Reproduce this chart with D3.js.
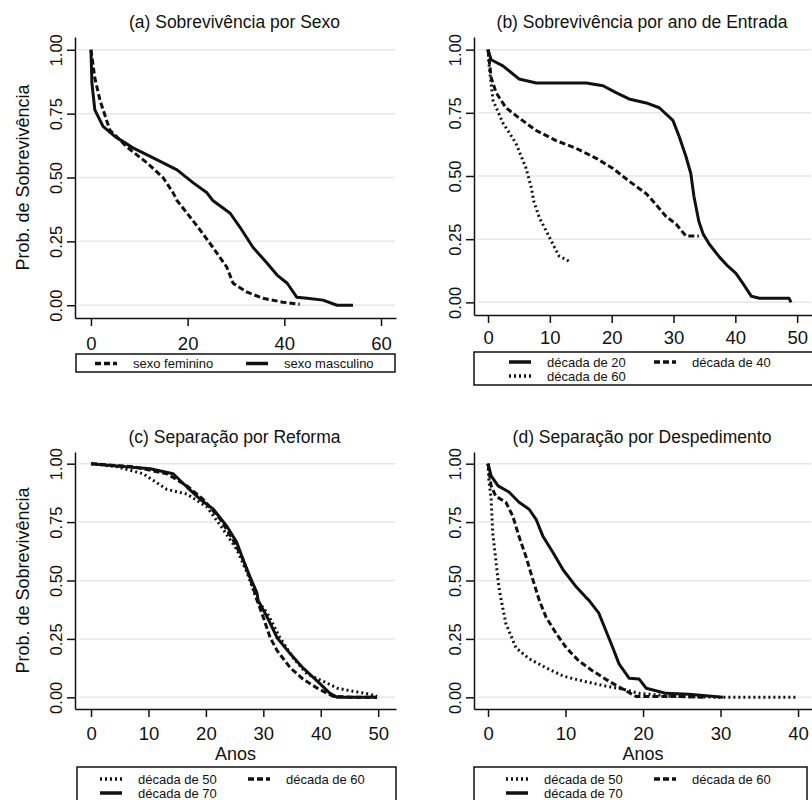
<!DOCTYPE html>
<html>
<head>
<meta charset="utf-8">
<script src="https://cdn.jsdelivr.net/npm/d3@7"></script>
<style>
body { margin: 0; background: #fff; }
svg { display: block; font-family: "Liberation Sans", Arial, sans-serif; }
</style>
</head>
<body>
<svg width="812" height="800"></svg>
<script>
// survival estimates: [anos, prob. de sobrevivência]
let sexoFeminino = [[0,1],[0.8,0.89],[1.9,0.80],[3.9,0.686],[7.4,0.62],[11.6,0.557],[14.9,0.50],[17,0.44],[17.8,0.41],
    [19.9,0.36],[22.6,0.294],[25.2,0.227],[28.1,0.149],[29.4,0.086],[32.3,0.051],[35.6,0.027],[39.7,0.012],[43.2,0.004]];
let sexoMasculino = [[0,1],[0.2,0.87],[0.8,0.765],[2.5,0.70],[5,0.66],[8.7,0.616],[13.7,0.569],[17.8,0.53],[21.1,0.48],
    [24,0.44],[25.2,0.41],[28.8,0.36],[30.8,0.306],[33.5,0.227],[36.4,0.165],[38.5,0.118],[40.6,0.086],[42.6,0.031],
    [44.7,0.027],[48,0.02],[50.9,0.0],[54.2,0.0]];

let entrada20 = [[0,1],[0.5,0.96],[2.4,0.936],[5,0.884],[7.8,0.868],[11,0.868],[15.9,0.868],[18.6,0.857],[20.7,0.83],
    [22.8,0.805],[25.6,0.789],[27.7,0.77],[29.9,0.72],[30.9,0.657],[32,0.578],[32.8,0.51],[33.3,0.42],[34.1,0.32],
    [34.8,0.27],[35.8,0.23],[37.4,0.18],[38.8,0.143],[40.1,0.115],[41.3,0.072],[42.6,0.024],[43.9,0.016],[46.1,0.016],
    [48.7,0.016],[49,0.0]];
let entrada40 = [[0,1],[0.5,0.89],[1.3,0.83],[2.9,0.77],[5,0.73],[7.8,0.68],[11,0.64],[14.2,0.61],[17.5,0.57],[20.2,0.53],
    [22.8,0.48],[25.6,0.43],[26.7,0.40],[28.8,0.34],[30.4,0.31],[32,0.263],[34.1,0.263]];
let entrada60 = [[0,1],[0.2,0.93],[0.8,0.80],[2.4,0.71],[4.5,0.63],[6.1,0.534],[7,0.454],[7.4,0.40],[8.3,0.335],[9.4,0.283],
    [10.5,0.23],[11.5,0.183],[13.1,0.163]];

let reforma50 = [[0,1],[4.5,0.987],[9.1,0.957],[13.2,0.89],[16.7,0.87],[20.2,0.814],[23,0.719],[25.4,0.632],[27.2,0.532],
    [28.9,0.416],[30.7,0.36],[32.9,0.255],[35.2,0.169],[37.6,0.1],[40.4,0.069],[42.9,0.039],[45.6,0.026],[48.6,0.013],[49.8,0.004]];
let reforma60 = [[0,1],[7.3,0.987],[13.2,0.957],[16.7,0.905],[19.5,0.848],[22.5,0.762],[24.7,0.675],[26.5,0.589],[28.2,0.472],
    [28.9,0.416],[30,0.342],[31.2,0.255],[32.4,0.2],[34.7,0.126],[36.9,0.078],[39.4,0.039],[42.2,0.004],[45.6,0],[49.8,0]];
let reforma70 = [[0,1],[4.5,0.99],[10.3,0.978],[14.3,0.957],[16.7,0.90],[19,0.848],[21.3,0.805],[23.7,0.73],[25.4,0.662],
    [26.5,0.588],[27.7,0.515],[28.9,0.446],[29.1,0.415],[30.7,0.342],[32.4,0.255],[34.7,0.186],[36.9,0.126],[39.4,0.069],
    [41.6,0.017],[42.9,0],[45.6,0],[49.8,0]];

let despedimento50 = [[0,1],[0.1,0.935],[0.4,0.848],[0.6,0.706],[1,0.589],[1.4,0.472],[1.7,0.416],[2.3,0.316],[3.6,0.212],
    [5.3,0.165],[7.5,0.126],[9.7,0.091],[12.3,0.069],[15.2,0.048],[17.4,0.035],[19.5,0.017],[23.9,0.004],[30.3,0],[39.7,0]];
let despedimento60 = [[0,1],[0.4,0.905],[1,0.861],[2.3,0.835],[3.2,0.775],[4,0.688],[4.9,0.602],[5.8,0.502],[6.6,0.416],
    [7.5,0.342],[8.8,0.273],[10.1,0.212],[11.7,0.156],[13.5,0.113],[15.6,0.069],[17.4,0.035],[19.1,0.004],[20.8,0.004],
    [23.9,0.004],[28.1,0]];
let despedimento70 = [[0,1],[0.4,0.948],[1.3,0.905],[2.7,0.879],[4,0.835],[5.3,0.805],[6.2,0.762],[7.1,0.688],[8.4,0.619],
    [9.7,0.545],[11.4,0.472],[12.6,0.429],[13,0.416],[14.3,0.36],[15.2,0.286],[16.1,0.212],[16.9,0.143],[18.2,0.082],
    [19.5,0.078],[20.4,0.039],[23,0.017],[25.9,0.013],[30.3,0]];

let yTicks = [0, 0.25, 0.5, 0.75, 1];
let xTicksA = [0, 20, 40, 60];
let xTicksB = [0, 10, 20, 30, 40, 50];
let xTicksC = [0, 10, 20, 30, 40, 50];
let xTicksD = [0, 10, 20, 30, 40];

let titles = ["(a) Sobrevivência por Sexo", "(b) Sobrevivência por ano de Entrada",
              "(c) Separação por Reforma", "(d) Separação por Despedimento"];
let yTitle = "Prob. de Sobrevivência";
let xTitle = "Anos";

let styles = {
    solid:  {dash: null},
    dashed: {dash: "6,3"},
    dotted: {dash: "2,3"}
};

let svg = d3.select("svg");

let panels = [
    {title: titles[0], xDom: [-3.3, 63.1], xRange: [75, 396], yRange: [318, 37], xTicks: xTicksA, yTitle: true, xTitle: false,
     tickY: 32, titleY: 28,
     series: [{d: sexoFeminino, s: "dashed"}, {d: sexoMasculino, s: "solid"}],
     legend: {x: 76, y: 354, w: 319, h: 18, items: [
         {s: "dashed", name: "sexo feminino", x: 95, y: 363.5}, {s: "solid", name: "sexo masculino", x: 246, y: 363.5}]}},
    {title: titles[1], xDom: [-2.27, 52.4], xRange: [474, 812], yRange: [315, 37], xTicks: xTicksB, yTitle: false, xTitle: false,
     tickY: 29, titleY: 28,
     series: [{d: entrada20, s: "solid"}, {d: entrada40, s: "dashed"}, {d: entrada60, s: "dotted"}],
     legend: {x: 474, y: 352, w: 345, h: 33, items: [
         {s: "solid", name: "década de 20", x: 509, y: 362}, {s: "dashed", name: "década de 40", x: 654, y: 362},
         {s: "dotted", name: "década de 60", x: 509, y: 376}]}},
    {title: titles[2], xDom: [-2.79, 53.1], xRange: [75, 396], yRange: [709, 452], xTicks: xTicksC, yTitle: true, xTitle: true,
     tickY: 31, titleY: 443,
     series: [{d: reforma50, s: "dotted"}, {d: reforma60, s: "dashed"}, {d: reforma70, s: "solid"}],
     legend: {x: 77, y: 767, w: 319, h: 40, items: [
         {s: "dotted", name: "década de 50", x: 100, y: 779}, {s: "dashed", name: "década de 60", x: 248, y: 779},
         {s: "solid", name: "década de 70", x: 100, y: 793}]}},
    {title: titles[3], xDom: [-1.81, 41.8], xRange: [474, 812], yRange: [709, 452], xTicks: xTicksD, yTitle: false, xTitle: true,
     tickY: 31, titleY: 443,
     series: [{d: despedimento50, s: "dotted"}, {d: despedimento60, s: "dashed"}, {d: despedimento70, s: "solid"}],
     legend: {x: 474, y: 767, w: 333, h: 40, items: [
         {s: "dotted", name: "década de 50", x: 506, y: 779}, {s: "dashed", name: "década de 60", x: 654, y: 779},
         {s: "solid", name: "década de 70", x: 506, y: 793}]}}
];

panels.forEach(function(p) {
    let x = d3.scaleLinear().domain(p.xDom).range(p.xRange),
        y = d3.scaleLinear().domain([-0.05, 1.05]).range(p.yRange),
        g = svg.append("g");

    // grid
    g.selectAll(".grid")
        .data(yTicks)
        .enter().append("line")
        .attr("x1", p.xRange[0] + 4).attr("x2", p.xRange[1] - 1)
        .attr("y1", function(d) { return y(d); }).attr("y2", function(d) { return y(d); })
        .attr("stroke", "#e6e6e6")
        .attr("stroke-width", 1.5);

    // title
    g.append("text")
        .attr("x", (p.xRange[0] + p.xRange[1]) / 2 - 1)
        .attr("y", p.titleY)
        .attr("text-anchor", "middle")
        .style("font-size", "17.5px")
        .attr("fill", "#111")
        .text(p.title);

    // y axis with rotated labels
    let ya = g.append("g")
        .attr("transform", "translate(" + p.xRange[0] + ",0)")
        .call(d3.axisLeft(y).tickValues(yTicks).tickFormat(d3.format(".2f")).tickSize(8).tickSizeOuter(0));
    ya.selectAll("text")
        .attr("transform", "rotate(-90)")
        .attr("x", 0).attr("y", -13).attr("dy", 0)
        .attr("text-anchor", "middle")
        .style("font-size", "16.5px").style("font-family", "Liberation Sans, Arial, sans-serif")
        .attr("fill", "#111");

    // x axis
    let xa = g.append("g")
        .attr("transform", "translate(0," + p.yRange[0] + ")")
        .call(d3.axisBottom(x).tickValues(p.xTicks).tickFormat(d3.format("d")).tickSize(8).tickSizeOuter(0));
    xa.selectAll("text")
        .attr("y", p.tickY).attr("dy", 0)
        .style("font-size", "18.5px").style("font-family", "Liberation Sans, Arial, sans-serif")
        .attr("fill", "#111");

    [ya, xa].forEach(function(a) {
        a.select(".domain").attr("stroke", "#111").attr("stroke-width", 1.5);
        a.selectAll(".tick line").attr("stroke", "#111").attr("stroke-width", 1.5);
    });

    if (p.yTitle) {
        g.append("text")
            .attr("transform", "translate(29," + (p.yRange[0] + p.yRange[1]) / 2 + ") rotate(-90)")
            .attr("text-anchor", "middle")
            .style("font-size", "18px")
            .attr("fill", "#111")
            .text(yTitle);
    }
    if (p.xTitle) {
        g.append("text")
            .attr("x", (p.xRange[0] + p.xRange[1]) / 2)
            .attr("y", 760)
            .attr("text-anchor", "middle")
            .style("font-size", "18px")
            .attr("fill", "#111")
            .text(xTitle);
    }

    // survival curves
    let line = d3.line()
        .x(function(d) { return x(d[0]); })
        .y(function(d) { return y(d[1]); });

    g.selectAll(".curve")
        .data(p.series)
        .enter().append("path")
        .attr("class", "curve")
        .attr("d", function(d) { return line(d.d); })
        .attr("fill", "none")
        .attr("stroke", "#111")
        .attr("stroke-width", 3)
        .attr("stroke-linejoin", "round")
        .attr("stroke-dasharray", function(d) { return styles[d.s].dash; });

    // legend
    let lg = g.append("g");
    lg.append("rect")
        .attr("x", p.legend.x).attr("y", p.legend.y)
        .attr("width", p.legend.w).attr("height", p.legend.h)
        .attr("fill", "#fff").attr("stroke", "#111").attr("stroke-width", 1.5);
    let it = lg.selectAll(".item")
        .data(p.legend.items)
        .enter().append("g")
        .attr("transform", function(d) { return "translate(" + d.x + "," + d.y + ")"; });
    it.append("line")
        .attr("x1", 0).attr("x2", 22)
        .attr("stroke", "#111").attr("stroke-width", 3.5)
        .attr("stroke-dasharray", function(d) { return styles[d.s].dash; });
    it.append("text")
        .attr("x", 38)
        .attr("dy", "0.35em")
        .style("font-size", "13px")
        .attr("fill", "#111")
        .text(function(d) { return d.name; });
});
</script>
</body>
</html>
